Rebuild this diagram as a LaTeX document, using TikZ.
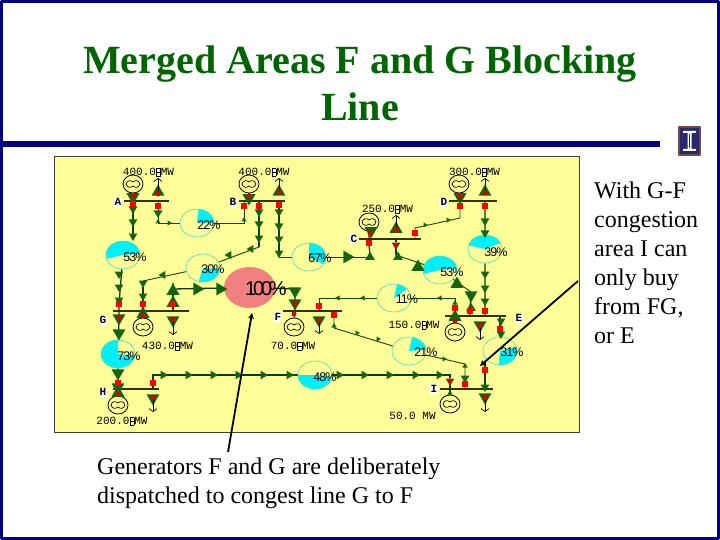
\documentclass[tikz,border=0pt]{standalone}
\usepackage{fontspec}
\setmainfont{Liberation Serif}
\newfontfamily\mwfont{Liberation Mono}
\newfontfamily\piefont[LetterSpace=-8]{Liberation Sans}
\newfontfamily\bigfont[LetterSpace=-16]{Liberation Sans}
\usetikzlibrary{arrows.meta,shapes.geometric,backgrounds}
\definecolor{framenavy}{RGB}{0,0,128}
\definecolor{titlegreen}{RGB}{0,100,0}
\definecolor{panelyellow}{RGB}{255,255,153}
\definecolor{flowgreen}{RGB}{20,100,10}
\definecolor{busolive}{RGB}{50,50,0}
\definecolor{piecyan}{RGB}{0,240,250}
\definecolor{pieline}{RGB}{70,220,190}
\definecolor{salmonpie}{RGB}{242,128,128}
\definecolor{logobrown}{RGB}{110,75,65}
\definecolor{logonavy}{RGB}{40,40,110}
\newcommand{\spinbox}{\raisebox{-.5pt}{\setlength{\fboxsep}{0pt}\setlength{\fboxrule}{.4pt}\fbox{\rule{0pt}{7pt}\rule[3.2pt]{4pt}{.7pt}}}}
\tikzset{
  wire/.style={flowgreen!70!black, line width=.9pt},
  wirethick/.style={flowgreen!60!black, line width=1.3pt},
  loadarrow/.style={black, line width=.7pt, -{Straight Barb[length=3pt,width=8pt]}},
  callout/.style={black, line width=1.8pt, -{Stealth[length=6pt,width=6pt]}},
  tri/.style={regular polygon, regular polygon sides=3, fill=flowgreen, inner sep=0pt, minimum size=#1},
  brk/.style={rectangle, fill=red, inner sep=0pt, minimum size=6pt},
  brkdot/.style={circle, fill=red!85!black, inner sep=0pt, minimum size=5pt},
  busbar/.style={rectangle, fill=busolive, inner sep=0pt, minimum height=1.7pt},
  gen/.style={ellipse, draw=black, line width=.8pt, inner sep=0pt, minimum width=20pt, minimum height=18pt},
  piering/.style={ellipse, draw=pieline, line width=.6pt, inner sep=0pt, minimum width=34pt, minimum height=28pt},
  pietext/.style={inner sep=0pt, font=\fontsize{12.5}{12.5}\piefont},
  mwtext/.style={inner sep=0pt, font=\fontsize{11}{11}\mwfont},
  busname/.style={fill=white, inner sep=1pt, font=\fontsize{11}{11}\mwfont\bfseries},
}
\begin{document}
\begin{tikzpicture}[x=1pt, y=-1pt, line join=round, >=stealth]
\useasboundingbox (0,0) rectangle (720,540);
\draw[framenavy, line width=3pt] (1.5,1.5) rectangle (718.5,538.5);
\fill[framenavy] (0,141) rectangle (660,147);
% logo
\node[rectangle, draw=logobrown, fill=logonavy, line width=1.3pt, minimum width=21pt, minimum height=28pt, inner sep=0pt] (logo) at (689.5,141) {};
\fill[white] (683,131) rectangle (696,133) (687.5,133) rectangle (691.5,149) (683,149) rectangle (696,151);
\fill[logonavy] (689,134) rectangle (690.2,148);
% title and texts
\node[align=center, inner sep=0pt, text=titlegreen, font=\fontsize{40}{47}\selectfont\bfseries] (title) at (360,83.5) {Merged Areas F and G Blocking\\Line};
\node[anchor=north west, align=left, inner sep=0pt, font=\fontsize{24}{29}\selectfont] (sidenote) at (594,181.5) {With G-F\\congestion\\area I can\\only buy\\from FG,\\or E};
\node[anchor=north west, align=left, inner sep=0pt, font=\fontsize{24}{29}\selectfont] (lownote) at (97,458) {Generators F and G are deliberately\\dispatched to congest line G to F};

% pies
\node[ellipse, fill=salmonpie, inner sep=0pt, minimum width=51pt, minimum height=41pt] (p100) at (249.5,287.5) {};
\foreach \nm/\x/\y/\st/\en/\val/\tx/\ty in {
  pa/123/255/5/196/53/135/257, pb/197/223/0/85/22/209/225, pc/203/268/-105/-5/30/213/269,
  pd/309/257/-31/90/67/320/258, pe/485/249/25/165/39/496/252, pf/440/270/5/196/53/452/272,
  pg/394/298/40/80/11/407/299, ph/409/351/5/80/21/426/352, pi/500/351/-95/17/31/512/352,
  pj/315/375/180/353/48/325/377, pk/118/354/90/353/73/129/356}
{
  \fill[piecyan] (\x,\y) -- ++(-\st:17 and 14) arc[start angle=-\st, end angle=-\en, x radius=17, y radius=14] -- cycle;
  \node[piering] (\nm) at (\x,\y) {};
  \node[pietext] (\nm txt) at (\tx,\ty) {\val\%};
}
\node[inner sep=0pt, font=\fontsize{20}{20}\bigfont] (p100txt) at (266,289) {100\%};

% generators
\foreach \nm/\x/\y in {ga/133/184, gb/249/184, gc/369/222, gd/459/184, ge/455/332, gf/294/327, gg/143/327, gh/118/405, gi/450/404}
{
  \node[gen] (\nm) at (\x,\y) {};
  \draw[shift={(\x,\y)}, line width=.7pt] (-7,0) .. controls (-6,-4) and (-2,-4) .. (0,-2) .. controls (2,-4) and (6,-4) .. (7,0) .. controls (6,4) and (2,4) .. (0,2) .. controls (-2,4) and (-6,4) .. (-7,0);
}
% buses
\foreach \nm/\x/\w/\y in {busA/146.5/45/201, busB/262/46/201, busC/390/62/239, busD/473/48/201, busE/475.5/61/316, busF/312.5/59/311, busG/151/76/311, busH/136/46/389, busI/466.5/53/389}
  \node[busbar, minimum width=\w pt] (\nm) at (\x,\y) {};
\foreach \nm/\x/\y/\tx in {nameA/118/202/A, nameB/233/202/B, nameC/354/239/C, nameD/444/202/D, nameE/519/318/E, nameF/278/317/F, nameG/103/320/G, nameH/103/392/H, nameI/434/389/I}
  \node[busname] (\nm) at (\x,\y) {\tx};
% MW readings
\foreach \nm/\x/\y/\val in {mwa/148.5/172/400.0, mwb/264/172/400.0, mwc/387.5/209/250.0, mwd/474.5/172/300.0, mwe/414/325/150.0, mwf/293/346/70.0, mwg/167.5/346/430.0, mwh/122/421/200.0}
  \node[mwtext] (\nm) at (\x,\y) {\val\spinbox MW};
\node[mwtext] (mwi) at (412.5,416) {50.0 MW};

% triangles: large, medium, small in each direction
\foreach \x/\y [count=\n] in {133/197, 249/198, 371/231, 460/197, 295/291, 295/303, 173/320, 119/333, 119/318, 319/320, 153/398, 118/373, 480/325, 485/397, 471/295, 118/387}
  \node[tri=15pt, shape border rotate=180] (ld\n) at (\x,\y) {};
\foreach \x/\y [count=\n] in {158/192, 279/192, 396/229, 485/192, 143/314, 173/291, 118/393, 418/267, 457/284, 455/317, 173/303}
  \node[tri=15pt] (lu\n) at (\x,\y) {};
\foreach \x/\y [count=\n] in {370/257, 398/257, 471/308}
  \node[tri=11pt] (mu\n) at (\x,\y) {};
\foreach \x/\y [count=\n] in {133/209, 133/222, 133/236, 259/212, 259/224, 259/238, 279/212, 279/226, 279/239, 279/253, 119/274, 119/287, 119/300, 143/283, 143/296, 485/221, 485/233, 485/274, 485/288, 485/301, 485/387, 396/245, 501/321, 501/334, 465/378, 450/381, 158/213}
  \node[tri=10pt, shape border rotate=180] (md\n) at (\x,\y) {};
\foreach \x/\y [count=\n] in {197/289, 220/289, 347/257}
  \node[tri=15pt, shape border rotate=-90] (lr\n) at (\x,\y) {};
\foreach \x/\y [count=\n] in {163/375, 188/375, 213/375, 238/375, 263/375, 289/375, 339/375, 364/375, 389/375, 415/375, 439/375}
  \node[tri=10pt, shape border rotate=-90] (mr\n) at (\x,\y) {};
\foreach \x/\y [count=\n] in {169/223, 425/225, 448/220, 444/359, 357/333, 378/339}
  \node[tri=6pt, shape border rotate=-90] (sr\n) at (\x,\y) {};
\foreach \x/\y [count=\n] in {338/298, 363/298, 440/298}
  \node[tri=6pt, shape border rotate=90] (sl\n) at (\x,\y) {};
\foreach \x/\y [count=\n] in {251/249, 229/255, 163/275}
  \node[tri=9pt, shape border rotate=90] (ml\n) at (\x,\y) {};
\foreach \x/\y [count=\n] in {244/220, 158/222, 465/366, 455/303, 450/393, 334/326}
  \node[tri=6pt] (su\n) at (\x,\y) {};

% breakers
\foreach \nm/\x/\y in {ba1/133/204, ba2/158/206, bb1/244/206, bb2/259/206, bb3/279/205, bc1/369/243, bc3/415/233, bd1/460/206, bd2/485/206, be1/455/308, be2/470/311, be3/485/311, be4/500/329, bf2/319/306, bf3/334/315, bg1/119/304, bg2/143/304, bg3/173/304, bh1/118/383, bh2/153/383, bi2/465/384, bi3/485/370}
  \node[brk] (\nm) at (\x,\y) {};
\foreach \nm/\x/\y in {da1/133/196, da2/158/194, db1/249/196, db2/279/192, dc1/370/233, dc2/396/230, dc3/396/245, dd1/460/196, dd2/485/193, de1/455/321, de2/480/325, df1/295/303, df2/294/314, df3/319/320, dg1/143/315, dg2/119/318, dg3/173/319, dh1/118/394, dh2/153/397, di1/450/381, di2/485/397}
  \node[brkdot] (\nm) at (\x,\y) {};

% free ends and bends of the lines
\foreach \nm/\x/\y in {ja/133/240, jb/158/223, jc/244/223, jd/259/247, je/143/281, jf/279/257, jg/370/257, jh/396/255, ji/460/218, jj/415/228, jk/471/292, jl/455/298, jm/319/298, jn/334/328, jo/465/364, jp/485/362, jq/153/375, jr/450/375, js/173/289, jt/295/289,
  ta/158/178, tb/279/178, tc/396/215, td/485/178, te/480/340, tf/319/334, tg/173/335, th/153/412, ti/485/412, ca/228/452, cb/578/281, tipa/252/313, tipb/480/366}
  \coordinate (\nm) at (\x,\y);

\begin{scope}[on background layer]
\fill[panelyellow] (54.5,156) rectangle (579,432);
\draw[black!75, line width=.8pt] (54.5,156) rectangle (579,432);
\draw[wirethick] (ga) -- (ba1) -- (ja);
\draw[wire] (ba2) -- (ba2 |- busA) (ba2) -- (jb) -- (pb) -- (jc) -- (bb1) -- (bb1 |- busB);
\draw[wirethick] (gb) -- (db1) (db1) -- (db1 |- busB);
\draw[wirethick] (bb2) -- (bb2 |- busB) (bb2) -- (jd);
\draw[wire] (jd) -- (pc) -- (je);
\draw[wirethick] (je) -- (bg2) -- (bg2 |- busG) (gg) -- (bg2 |- busG);
\draw[wirethick] (bb3) -- (bb3 |- busB) (bb3) -- (jf);
\draw[wire] (jf) -- (pd) -- (jg);
\draw[wirethick] (jg) -- (bc1) -- (gc);
\draw[wirethick] (dc3) -- (dc3 |- busC) (dc3) -- (jh);
\draw[wire] (jh) -- (pf) -- (jk);
\draw[wirethick] (jk) -- (be2) -- (be2 |- busE);
\draw[wire] (bc3) -- (bc3 |- busC) (bc3) -- (jj) -- (ji) -- (bd1);
\draw[wirethick] (gd) -- (bd1) (bd2) -- (bd2 |- busD) (bd2) -- (pe) -- (be3) -- (be3 |- busE);
\draw[wirethick] (ge) -- (be1);
\draw[wire] (be1) -- (jl) -- (pg) -- (jm) -- (bf2) -- (bf2 |- busF);
\draw[wire] (bf3) -- (bf3 |- busF) (bf3) -- (jn) -- (ph) -- (jo) -- (bi2) -- (bi2 |- busI);
\draw[wirethick] (jp) -- (bi3) -- (bi3 |- busI) (be4) -- (be4 |- busE) (be4) -- (pi);
\draw[wirethick] (bh2) -- (bh2 |- busH) (bh2) -- (jq) -- (pj) -- (jr) -- (di1) -- (gi);
\draw[wirethick] (pa) -- (bg1) -- (dg2) -- (pk) -- (bh1) -- (gh);
\draw[wirethick] (lu6) -- (bg3) -- (bg3 |- busG);
\draw[wirethick] (lu6) -- (js) -- (p100) -- (jt) -- (df1) -- (gf);
\end{scope}

% open load arrows
\draw[loadarrow] (da2) -- (ta);
\draw[loadarrow] (db2) -- (tb);
\draw[loadarrow] (dc2) -- (tc);
\draw[loadarrow] (dd2) -- (td);
\draw[loadarrow] (de2) -- (te);
\draw[loadarrow] (df3) -- (tf);
\draw[loadarrow] (dg3) -- (tg);
\draw[loadarrow] (dh2) -- (th);
\draw[loadarrow] (di2) -- (ti);
% callouts
\draw[callout] (ca) -- (tipa);
\draw[callout] (cb) -- (tipb);
\end{tikzpicture}
\end{document}
